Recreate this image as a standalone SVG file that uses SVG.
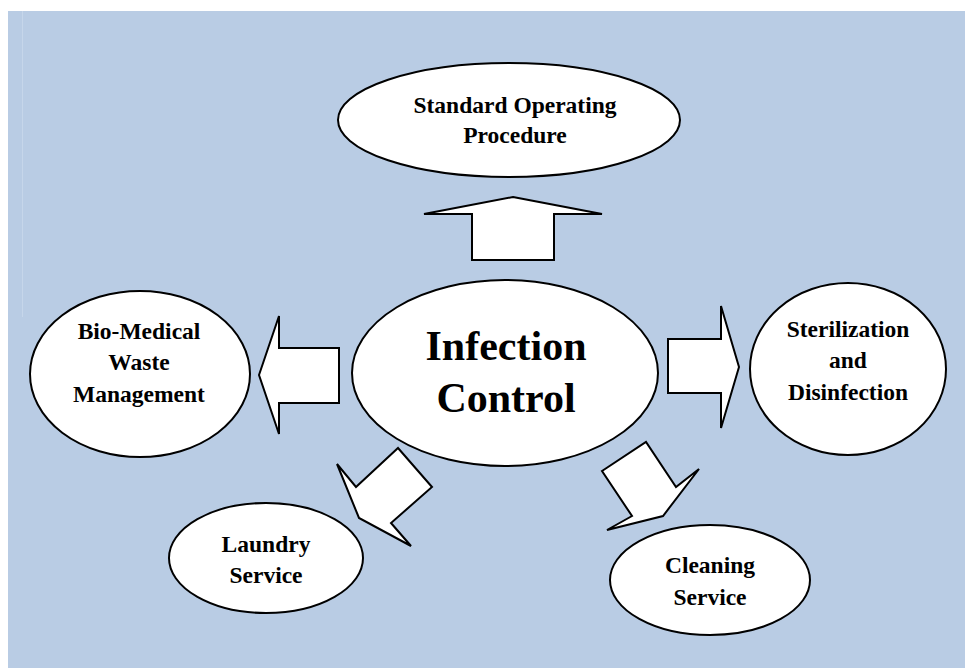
<svg xmlns="http://www.w3.org/2000/svg" width="965" height="668" viewBox="0 0 965 668">
<style>
.n{fill:#fff;stroke:#000;stroke-width:2}
.a{fill:#fff;stroke:#000;stroke-width:2;stroke-linejoin:miter}
text{font-family:"Liberation Serif","Times New Roman",serif;font-weight:bold;fill:#000;text-anchor:middle}
.s{font-size:23.5px}
.b{font-size:42px}
</style>
<rect x="0" y="0" width="965" height="668" fill="#fff"/>
<rect x="8" y="11" width="957" height="657" fill="#b9cce4"/>
<line x1="22.5" y1="11" x2="22.5" y2="317" stroke="#c6d6ea" stroke-width="1"/>
<g id="connectors">
<polygon class="a" points="513,197 602,214 554,214 554,260 472,260 472,214 424,214"/>
<polygon class="a" points="259,375 279,316 279,348 339,348 339,403 279,403 279,434"/>
<polygon class="a" points="739,367 721,428 721,393 668,393 668,339 721,339 721,306"/>
<polygon class="a" points="398,448 432,487 391,523 411,546 359,518 337,464 356,487"/>
<polygon class="a" points="602,471 646,442 676,487 699,469 663,516 607,530 632,516"/>
</g>
<g id="sop">
<ellipse class="n" cx="509" cy="120" rx="171" ry="57"/>
<text class="s" x="515" y="113">Standard Operating</text>
<text class="s" x="515" y="143">Procedure</text>
</g>
<g id="infection">
<ellipse class="n" cx="505" cy="373" rx="153" ry="93"/>
<text class="b" x="506" y="360">Infection</text>
<text class="b" x="506" y="412">Control</text>
</g>
<g id="biomedical">
<ellipse class="n" cx="140" cy="374" rx="110" ry="83"/>
<text class="s" x="139" y="339">Bio-Medical</text>
<text class="s" x="139" y="370">Waste</text>
<text class="s" x="139" y="402">Management</text>
</g>
<g id="sterilization">
<ellipse class="n" cx="848" cy="369" rx="98" ry="86"/>
<text class="s" x="848" y="337">Sterilization</text>
<text class="s" x="848" y="368">and</text>
<text class="s" x="848" y="400">Disinfection</text>
</g>
<g id="laundry">
<ellipse class="n" cx="266" cy="558" rx="97" ry="55"/>
<text class="s" x="266" y="552">Laundry</text>
<text class="s" x="266" y="583">Service</text>
</g>
<g id="cleaning">
<ellipse class="n" cx="710" cy="580" rx="100" ry="55"/>
<text class="s" x="710" y="573">Cleaning</text>
<text class="s" x="710" y="605">Service</text>
</g>
</svg>
